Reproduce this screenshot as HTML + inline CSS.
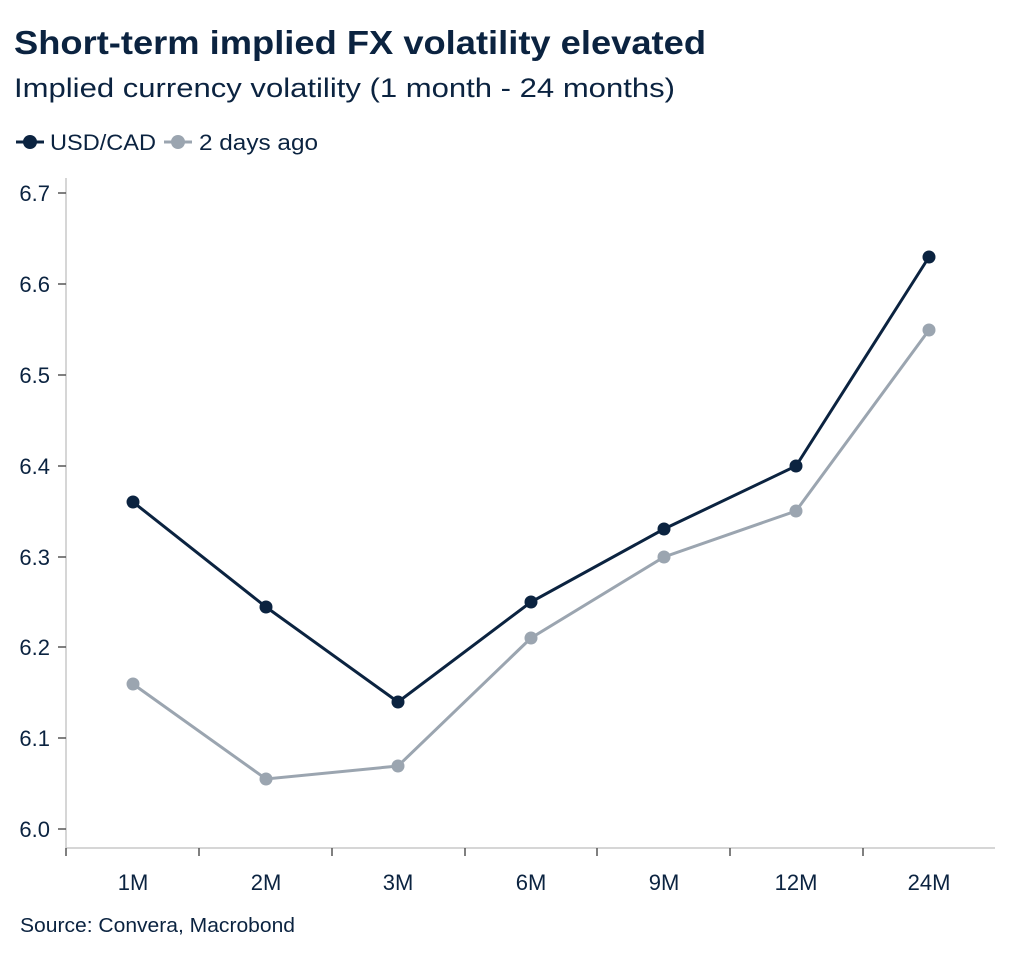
<!DOCTYPE html>
<html><head><meta charset="utf-8"><style>
body{margin:0;background:#fff;}
text{font-family:"Liberation Sans",sans-serif;fill:#0b2340;}
</style></head><body>
<svg width="1024" height="958" viewBox="0 0 1024 958" xmlns="http://www.w3.org/2000/svg">
<text x="14" y="54" font-size="33" font-weight="bold" textLength="692" lengthAdjust="spacingAndGlyphs">Short-term implied FX volatility elevated</text>
<text x="14" y="97" font-size="27" textLength="661" lengthAdjust="spacingAndGlyphs">Implied currency volatility (1 month - 24 months)</text>
<line x1="16" y1="142" x2="44" y2="142" stroke="#0b2340" stroke-width="3"/>
<circle cx="30" cy="142" r="7" fill="#0b2340"/>
<text x="50" y="150" font-size="22" textLength="106" lengthAdjust="spacingAndGlyphs">USD/CAD</text>
<line x1="164" y1="142" x2="192" y2="142" stroke="#9ba5b0" stroke-width="3"/>
<circle cx="178" cy="142" r="7" fill="#9ba5b0"/>
<text x="199" y="150" font-size="22" textLength="119" lengthAdjust="spacingAndGlyphs">2 days ago</text>
<g stroke="#c8c8c8" stroke-width="1.5">
<line x1="66" y1="178" x2="66" y2="848"/>
<line x1="66" y1="848" x2="995" y2="848"/>
</g>
<g stroke="#555" stroke-width="1.5">
<line x1="58" y1="193" x2="66" y2="193"/><line x1="58" y1="284" x2="66" y2="284"/><line x1="58" y1="375" x2="66" y2="375"/><line x1="58" y1="466" x2="66" y2="466"/><line x1="58" y1="557" x2="66" y2="557"/><line x1="58" y1="647" x2="66" y2="647"/><line x1="58" y1="738" x2="66" y2="738"/><line x1="58" y1="829" x2="66" y2="829"/>
<line x1="66" y1="848" x2="66" y2="856"/><line x1="199" y1="848" x2="199" y2="856"/><line x1="332" y1="848" x2="332" y2="856"/><line x1="465" y1="848" x2="465" y2="856"/><line x1="597" y1="848" x2="597" y2="856"/><line x1="730" y1="848" x2="730" y2="856"/><line x1="863" y1="848" x2="863" y2="856"/>
</g>
<g font-size="22" text-anchor="end">
<text x="50" y="201">6.7</text><text x="50" y="292">6.6</text><text x="50" y="383">6.5</text><text x="50" y="474">6.4</text><text x="50" y="565">6.3</text><text x="50" y="655">6.2</text><text x="50" y="746">6.1</text><text x="50" y="837">6.0</text>
</g>
<g font-size="22" text-anchor="middle">
<text x="133" y="890">1M</text><text x="266" y="890">2M</text><text x="398" y="890">3M</text><text x="531" y="890">6M</text><text x="664" y="890">9M</text><text x="796" y="890">12M</text><text x="929" y="890">24M</text>
</g>
<polyline fill="none" stroke="#9ba5b0" stroke-width="3" points="133,684 266,779 398,766 531,638 664,557 796,511 929,330"/>
<g fill="#9ba5b0"><circle cx="133" cy="684" r="6.5"/><circle cx="266" cy="779" r="6.5"/><circle cx="398" cy="766" r="6.5"/><circle cx="531" cy="638" r="6.5"/><circle cx="664" cy="557" r="6.5"/><circle cx="796" cy="511" r="6.5"/><circle cx="929" cy="330" r="6.5"/></g>
<polyline fill="none" stroke="#0b2340" stroke-width="3" points="133,502 266,607 398,702 531,602 664,529 796,466 929,257"/>
<g fill="#0b2340"><circle cx="133" cy="502" r="6.5"/><circle cx="266" cy="607" r="6.5"/><circle cx="398" cy="702" r="6.5"/><circle cx="531" cy="602" r="6.5"/><circle cx="664" cy="529" r="6.5"/><circle cx="796" cy="466" r="6.5"/><circle cx="929" cy="257" r="6.5"/></g>
<text x="20" y="932" font-size="20" textLength="275" lengthAdjust="spacingAndGlyphs">Source: Convera, Macrobond</text>
</svg>
</body></html>
